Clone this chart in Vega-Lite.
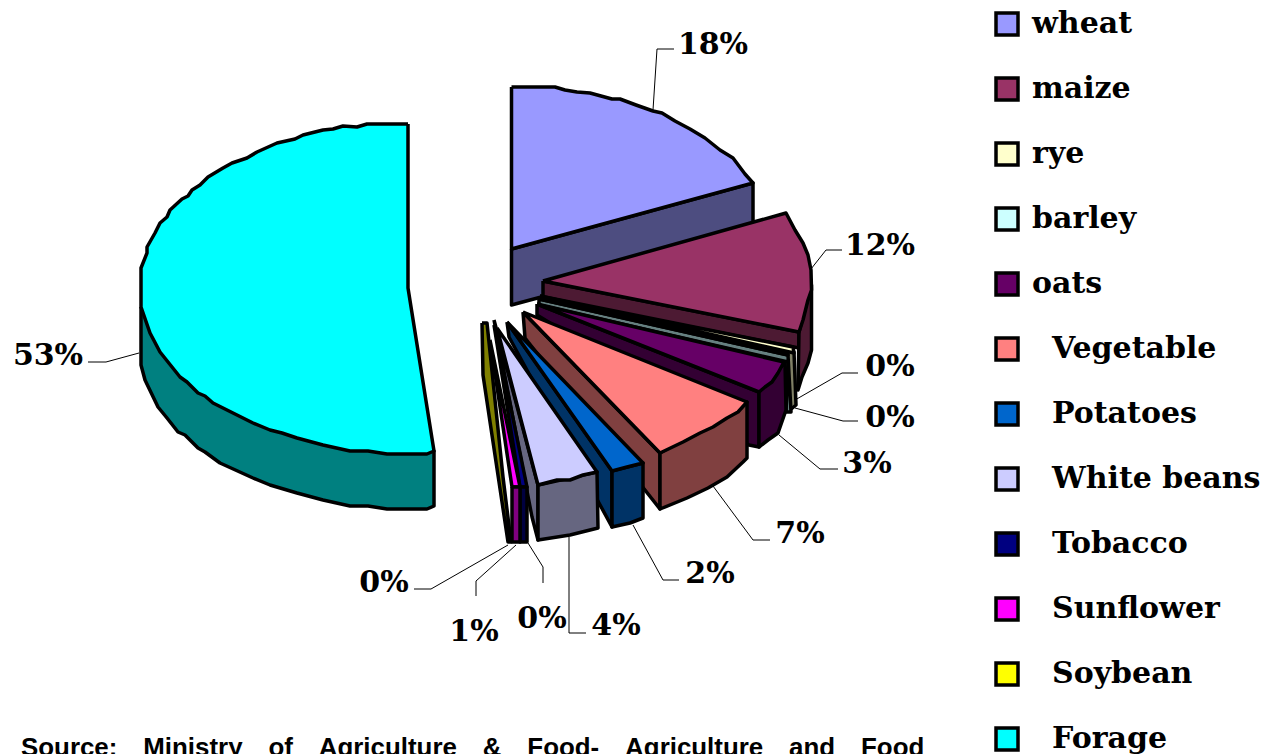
{"$schema":"https://vega.github.io/schema/vega-lite/v6.json","width":1261,"height":754,"autosize":"none","padding":0,"background":"white","view":{"stroke":null},
"datasets":{
"faces":[
{"surface":"wheat side","poly":"wheat side","n":1,"x":511.5,"y":249},{"surface":"wheat side","poly":"wheat side","n":2,"x":753,"y":183},{"surface":"wheat side","poly":"wheat side","n":3,"x":753,"y":240},{"surface":"wheat side","poly":"wheat side","n":4,"x":511.5,"y":305},{"surface":"wheat side","poly":"wheat side","n":5,"x":511.5,"y":249},
{"surface":"wheat","poly":"wheat top","n":1,"x":511.5,"y":87},{"surface":"wheat","poly":"wheat top","n":2,"x":555,"y":87},{"surface":"wheat","poly":"wheat top","n":3,"x":565,"y":90},{"surface":"wheat","poly":"wheat top","n":4,"x":577,"y":92},{"surface":"wheat","poly":"wheat top","n":5,"x":590,"y":93},{"surface":"wheat","poly":"wheat top","n":6,"x":612,"y":99},{"surface":"wheat","poly":"wheat top","n":7,"x":620,"y":99},{"surface":"wheat","poly":"wheat top","n":8,"x":636,"y":105},{"surface":"wheat","poly":"wheat top","n":9,"x":653,"y":111},{"surface":"wheat","poly":"wheat top","n":10,"x":662,"y":113},{"surface":"wheat","poly":"wheat top","n":11,"x":675,"y":121},{"surface":"wheat","poly":"wheat top","n":12,"x":690,"y":129},{"surface":"wheat","poly":"wheat top","n":13,"x":705,"y":138},{"surface":"wheat","poly":"wheat top","n":14,"x":720,"y":150},{"surface":"wheat","poly":"wheat top","n":15,"x":733,"y":158},{"surface":"wheat","poly":"wheat top","n":16,"x":745,"y":174},{"surface":"wheat","poly":"wheat top","n":17,"x":753,"y":183},{"surface":"wheat","poly":"wheat top","n":18,"x":511.5,"y":249},{"surface":"wheat","poly":"wheat top","n":19,"x":511.5,"y":87},
{"surface":"maize side","poly":"maize front","n":1,"x":543,"y":281},{"surface":"maize side","poly":"maize front","n":2,"x":799,"y":332},{"surface":"maize side","poly":"maize front","n":3,"x":799,"y":348},{"surface":"maize side","poly":"maize front","n":4,"x":543,"y":298},{"surface":"maize side","poly":"maize front","n":5,"x":543,"y":281},
{"surface":"maize side","poly":"maize rim","n":1,"x":799,"y":332},{"surface":"maize side","poly":"maize rim","n":2,"x":811.5,"y":285},{"surface":"maize side","poly":"maize rim","n":3,"x":811.5,"y":350},{"surface":"maize side","poly":"maize rim","n":4,"x":808,"y":363},{"surface":"maize side","poly":"maize rim","n":5,"x":802,"y":377},{"surface":"maize side","poly":"maize rim","n":6,"x":798,"y":390},{"surface":"maize side","poly":"maize rim","n":7,"x":799,"y":332},
{"surface":"maize","poly":"maize top","n":1,"x":543,"y":281},{"surface":"maize","poly":"maize top","n":2,"x":786,"y":213},{"surface":"maize","poly":"maize top","n":3,"x":795,"y":230},{"surface":"maize","poly":"maize top","n":4,"x":803,"y":243},{"surface":"maize","poly":"maize top","n":5,"x":808,"y":255},{"surface":"maize","poly":"maize top","n":6,"x":811,"y":270},{"surface":"maize","poly":"maize top","n":7,"x":811.5,"y":290},{"surface":"maize","poly":"maize top","n":8,"x":808,"y":300},{"surface":"maize","poly":"maize top","n":9,"x":803,"y":320},{"surface":"maize","poly":"maize top","n":10,"x":799,"y":332},{"surface":"maize","poly":"maize top","n":11,"x":543,"y":281},
{"surface":"rye side","poly":"rye side","n":1,"x":540,"y":296},{"surface":"rye side","poly":"rye side","n":2,"x":794,"y":352},{"surface":"rye side","poly":"rye side","n":3,"x":796,"y":405},{"surface":"rye side","poly":"rye side","n":4,"x":790,"y":410},{"surface":"rye side","poly":"rye side","n":5,"x":540,"y":308},{"surface":"rye side","poly":"rye side","n":6,"x":540,"y":296},
{"surface":"rye","poly":"rye top","n":1,"x":540,"y":296},{"surface":"rye","poly":"rye top","n":2,"x":793,"y":347},{"surface":"rye","poly":"rye top","n":3,"x":794,"y":353},{"surface":"rye","poly":"rye top","n":4,"x":540,"y":296},
{"surface":"barley side","poly":"barley side","n":1,"x":539,"y":299},{"surface":"barley side","poly":"barley side","n":2,"x":788,"y":355},{"surface":"barley side","poly":"barley side","n":3,"x":791,"y":412},{"surface":"barley side","poly":"barley side","n":4,"x":786,"y":412},{"surface":"barley side","poly":"barley side","n":5,"x":788,"y":362},{"surface":"barley side","poly":"barley side","n":6,"x":539,"y":305},{"surface":"barley side","poly":"barley side","n":7,"x":539,"y":299},
{"surface":"barley","poly":"barley top","n":1,"x":539,"y":299},{"surface":"barley","poly":"barley top","n":2,"x":788,"y":354},{"surface":"barley","poly":"barley top","n":3,"x":788,"y":355},{"surface":"barley","poly":"barley top","n":4,"x":539,"y":299},
{"surface":"oats side","poly":"oats front","n":1,"x":537,"y":304},{"surface":"oats side","poly":"oats front","n":2,"x":759,"y":392},{"surface":"oats side","poly":"oats front","n":3,"x":759,"y":447},{"surface":"oats side","poly":"oats front","n":4,"x":749,"y":445},{"surface":"oats side","poly":"oats front","n":5,"x":537,"y":315},{"surface":"oats side","poly":"oats front","n":6,"x":537,"y":304},
{"surface":"oats side","poly":"oats rim","n":1,"x":759,"y":392},{"surface":"oats side","poly":"oats rim","n":2,"x":785,"y":362},{"surface":"oats side","poly":"oats rim","n":3,"x":786,"y":410},{"surface":"oats side","poly":"oats rim","n":4,"x":778,"y":433},{"surface":"oats side","poly":"oats rim","n":5,"x":768,"y":440},{"surface":"oats side","poly":"oats rim","n":6,"x":759,"y":447},{"surface":"oats side","poly":"oats rim","n":7,"x":759,"y":392},
{"surface":"oats","poly":"oats top","n":1,"x":537,"y":304},{"surface":"oats","poly":"oats top","n":2,"x":784,"y":362},{"surface":"oats","poly":"oats top","n":3,"x":778,"y":373},{"surface":"oats","poly":"oats top","n":4,"x":772,"y":382},{"surface":"oats","poly":"oats top","n":5,"x":765,"y":387},{"surface":"oats","poly":"oats top","n":6,"x":759,"y":392},{"surface":"oats","poly":"oats top","n":7,"x":537,"y":304},
{"surface":"Vegetable side","poly":"Vegetable front","n":1,"x":523,"y":312},{"surface":"Vegetable side","poly":"Vegetable front","n":2,"x":660,"y":453},{"surface":"Vegetable side","poly":"Vegetable front","n":3,"x":660,"y":509},{"surface":"Vegetable side","poly":"Vegetable front","n":4,"x":525,"y":338},{"surface":"Vegetable side","poly":"Vegetable front","n":5,"x":523,"y":312},
{"surface":"Vegetable side","poly":"Vegetable rim","n":1,"x":660,"y":453},{"surface":"Vegetable side","poly":"Vegetable rim","n":2,"x":747,"y":402},{"surface":"Vegetable side","poly":"Vegetable rim","n":3,"x":747,"y":458},{"surface":"Vegetable side","poly":"Vegetable rim","n":4,"x":743,"y":462},{"surface":"Vegetable side","poly":"Vegetable rim","n":5,"x":727,"y":477},{"surface":"Vegetable side","poly":"Vegetable rim","n":6,"x":708,"y":488},{"surface":"Vegetable side","poly":"Vegetable rim","n":7,"x":687,"y":498},{"surface":"Vegetable side","poly":"Vegetable rim","n":8,"x":660,"y":509},{"surface":"Vegetable side","poly":"Vegetable rim","n":9,"x":660,"y":453},
{"surface":"Vegetable","poly":"Vegetable top","n":1,"x":523,"y":312},{"surface":"Vegetable","poly":"Vegetable top","n":2,"x":747,"y":402},{"surface":"Vegetable","poly":"Vegetable top","n":3,"x":738,"y":412},{"surface":"Vegetable","poly":"Vegetable top","n":4,"x":727,"y":418},{"surface":"Vegetable","poly":"Vegetable top","n":5,"x":713,"y":427},{"surface":"Vegetable","poly":"Vegetable top","n":6,"x":700,"y":433},{"surface":"Vegetable","poly":"Vegetable top","n":7,"x":683,"y":442},{"surface":"Vegetable","poly":"Vegetable top","n":8,"x":660,"y":453},{"surface":"Vegetable","poly":"Vegetable top","n":9,"x":523,"y":312},
{"surface":"Potatoes side","poly":"Potatoes front","n":1,"x":507,"y":322},{"surface":"Potatoes side","poly":"Potatoes front","n":2,"x":612,"y":471},{"surface":"Potatoes side","poly":"Potatoes front","n":3,"x":612,"y":527},{"surface":"Potatoes side","poly":"Potatoes front","n":4,"x":509,"y":337},{"surface":"Potatoes side","poly":"Potatoes front","n":5,"x":507,"y":322},
{"surface":"Potatoes side","poly":"Potatoes rim","n":1,"x":612,"y":471},{"surface":"Potatoes side","poly":"Potatoes rim","n":2,"x":643,"y":463},{"surface":"Potatoes side","poly":"Potatoes rim","n":3,"x":643,"y":518},{"surface":"Potatoes side","poly":"Potatoes rim","n":4,"x":630,"y":523},{"surface":"Potatoes side","poly":"Potatoes rim","n":5,"x":612,"y":527},{"surface":"Potatoes side","poly":"Potatoes rim","n":6,"x":612,"y":471},
{"surface":"Potatoes","poly":"Potatoes top","n":1,"x":507,"y":322},{"surface":"Potatoes","poly":"Potatoes top","n":2,"x":643,"y":463},{"surface":"Potatoes","poly":"Potatoes top","n":3,"x":627,"y":467},{"surface":"Potatoes","poly":"Potatoes top","n":4,"x":612,"y":471},{"surface":"Potatoes","poly":"Potatoes top","n":5,"x":507,"y":322},
{"surface":"White beans side","poly":"White beans front","n":1,"x":494,"y":320},{"surface":"White beans side","poly":"White beans front","n":2,"x":538,"y":485},{"surface":"White beans side","poly":"White beans front","n":3,"x":538,"y":540},{"surface":"White beans side","poly":"White beans front","n":4,"x":532,"y":517},{"surface":"White beans side","poly":"White beans front","n":5,"x":494,"y":320},
{"surface":"White beans side","poly":"White beans rim","n":1,"x":538,"y":485},{"surface":"White beans side","poly":"White beans rim","n":2,"x":597,"y":472},{"surface":"White beans side","poly":"White beans rim","n":3,"x":598,"y":528},{"surface":"White beans side","poly":"White beans rim","n":4,"x":570,"y":535},{"surface":"White beans side","poly":"White beans rim","n":5,"x":538,"y":540},{"surface":"White beans side","poly":"White beans rim","n":6,"x":538,"y":485},
{"surface":"White beans","poly":"White beans top","n":1,"x":497,"y":328},{"surface":"White beans","poly":"White beans top","n":2,"x":597,"y":472},{"surface":"White beans","poly":"White beans top","n":3,"x":583,"y":475},{"surface":"White beans","poly":"White beans top","n":4,"x":570,"y":480},{"surface":"White beans","poly":"White beans top","n":5,"x":557,"y":480},{"surface":"White beans","poly":"White beans top","n":6,"x":538,"y":485},{"surface":"White beans","poly":"White beans top","n":7,"x":497,"y":328},
{"surface":"Tobacco","poly":"Tobacco top","n":1,"x":494,"y":325},{"surface":"Tobacco","poly":"Tobacco top","n":2,"x":527,"y":487},{"surface":"Tobacco","poly":"Tobacco top","n":3,"x":520,"y":487},{"surface":"Tobacco","poly":"Tobacco top","n":4,"x":494,"y":325},
{"surface":"Tobacco side","poly":"Tobacco front","n":1,"x":520,"y":487},{"surface":"Tobacco side","poly":"Tobacco front","n":2,"x":527,"y":487},{"surface":"Tobacco side","poly":"Tobacco front","n":3,"x":527,"y":542},{"surface":"Tobacco side","poly":"Tobacco front","n":4,"x":520,"y":542},{"surface":"Tobacco side","poly":"Tobacco front","n":5,"x":520,"y":487},
{"surface":"Sunflower","poly":"Sunflower top","n":1,"x":490,"y":340},{"surface":"Sunflower","poly":"Sunflower top","n":2,"x":520,"y":487},{"surface":"Sunflower","poly":"Sunflower top","n":3,"x":512,"y":487},{"surface":"Sunflower","poly":"Sunflower top","n":4,"x":490,"y":340},
{"surface":"Sunflower side","poly":"Sunflower front","n":1,"x":512,"y":487},{"surface":"Sunflower side","poly":"Sunflower front","n":2,"x":520,"y":487},{"surface":"Sunflower side","poly":"Sunflower front","n":3,"x":520,"y":542},{"surface":"Sunflower side","poly":"Sunflower front","n":4,"x":512,"y":542},{"surface":"Sunflower side","poly":"Sunflower front","n":5,"x":512,"y":487},
{"surface":"Soybean side","poly":"Soybean side","n":1,"x":482,"y":323},{"surface":"Soybean side","poly":"Soybean side","n":2,"x":487,"y":323},{"surface":"Soybean side","poly":"Soybean side","n":3,"x":503,"y":477},{"surface":"Soybean side","poly":"Soybean side","n":4,"x":511,"y":542},{"surface":"Soybean side","poly":"Soybean side","n":5,"x":508,"y":542},{"surface":"Soybean side","poly":"Soybean side","n":6,"x":483,"y":375},{"surface":"Soybean side","poly":"Soybean side","n":7,"x":482,"y":323},
{"surface":"Forage side","poly":"Forage side","n":1,"x":141,"y":307},{"surface":"Forage side","poly":"Forage side","n":2,"x":141,"y":365},{"surface":"Forage side","poly":"Forage side","n":3,"x":145,"y":380},{"surface":"Forage side","poly":"Forage side","n":4,"x":158,"y":407},{"surface":"Forage side","poly":"Forage side","n":5,"x":167,"y":418},{"surface":"Forage side","poly":"Forage side","n":6,"x":178,"y":432},{"surface":"Forage side","poly":"Forage side","n":7,"x":185,"y":435},{"surface":"Forage side","poly":"Forage side","n":8,"x":198,"y":448},{"surface":"Forage side","poly":"Forage side","n":9,"x":205,"y":452},{"surface":"Forage side","poly":"Forage side","n":10,"x":220,"y":463},{"surface":"Forage side","poly":"Forage side","n":11,"x":253,"y":478},{"surface":"Forage side","poly":"Forage side","n":12,"x":270,"y":485},{"surface":"Forage side","poly":"Forage side","n":13,"x":297,"y":493},{"surface":"Forage side","poly":"Forage side","n":14,"x":323,"y":500},{"surface":"Forage side","poly":"Forage side","n":15,"x":350,"y":506},{"surface":"Forage side","poly":"Forage side","n":16,"x":368,"y":506},{"surface":"Forage side","poly":"Forage side","n":17,"x":387,"y":509},{"surface":"Forage side","poly":"Forage side","n":18,"x":427,"y":509},{"surface":"Forage side","poly":"Forage side","n":19,"x":434,"y":506},{"surface":"Forage side","poly":"Forage side","n":20,"x":434,"y":451},{"surface":"Forage side","poly":"Forage side","n":21,"x":141,"y":307},
{"surface":"Forage","poly":"Forage top","n":1,"x":408,"y":124},{"surface":"Forage","poly":"Forage top","n":2,"x":367,"y":124},{"surface":"Forage","poly":"Forage top","n":3,"x":357,"y":127},{"surface":"Forage","poly":"Forage top","n":4,"x":343,"y":126},{"surface":"Forage","poly":"Forage top","n":5,"x":333,"y":129},{"surface":"Forage","poly":"Forage top","n":6,"x":323,"y":130},{"surface":"Forage","poly":"Forage top","n":7,"x":303,"y":135},{"surface":"Forage","poly":"Forage top","n":8,"x":295,"y":139},{"surface":"Forage","poly":"Forage top","n":9,"x":277,"y":143},{"surface":"Forage","poly":"Forage top","n":10,"x":257,"y":152},{"surface":"Forage","poly":"Forage top","n":11,"x":247,"y":158},{"surface":"Forage","poly":"Forage top","n":12,"x":232,"y":163},{"surface":"Forage","poly":"Forage top","n":13,"x":223,"y":168},{"surface":"Forage","poly":"Forage top","n":14,"x":208,"y":177},{"surface":"Forage","poly":"Forage top","n":15,"x":200,"y":185},{"surface":"Forage","poly":"Forage top","n":16,"x":192,"y":190},{"surface":"Forage","poly":"Forage top","n":17,"x":188,"y":196},{"surface":"Forage","poly":"Forage top","n":18,"x":182,"y":199},{"surface":"Forage","poly":"Forage top","n":19,"x":170,"y":210},{"surface":"Forage","poly":"Forage top","n":20,"x":167,"y":217},{"surface":"Forage","poly":"Forage top","n":21,"x":160,"y":223},{"surface":"Forage","poly":"Forage top","n":22,"x":155,"y":233},{"surface":"Forage","poly":"Forage top","n":23,"x":147,"y":247},{"surface":"Forage","poly":"Forage top","n":24,"x":147,"y":253},{"surface":"Forage","poly":"Forage top","n":25,"x":141,"y":268},{"surface":"Forage","poly":"Forage top","n":26,"x":141,"y":307},{"surface":"Forage","poly":"Forage top","n":27,"x":150,"y":333},{"surface":"Forage","poly":"Forage top","n":28,"x":160,"y":352},{"surface":"Forage","poly":"Forage top","n":29,"x":168,"y":362},{"surface":"Forage","poly":"Forage top","n":30,"x":180,"y":377},{"surface":"Forage","poly":"Forage top","n":31,"x":187,"y":382},{"surface":"Forage","poly":"Forage top","n":32,"x":198,"y":393},{"surface":"Forage","poly":"Forage top","n":33,"x":205,"y":396},{"surface":"Forage","poly":"Forage top","n":34,"x":213,"y":403},{"surface":"Forage","poly":"Forage top","n":35,"x":233,"y":413},{"surface":"Forage","poly":"Forage top","n":36,"x":253,"y":423},{"surface":"Forage","poly":"Forage top","n":37,"x":270,"y":430},{"surface":"Forage","poly":"Forage top","n":38,"x":282,"y":433},{"surface":"Forage","poly":"Forage top","n":39,"x":297,"y":438},{"surface":"Forage","poly":"Forage top","n":40,"x":323,"y":445},{"surface":"Forage","poly":"Forage top","n":41,"x":350,"y":451},{"surface":"Forage","poly":"Forage top","n":42,"x":368,"y":451},{"surface":"Forage","poly":"Forage top","n":43,"x":387,"y":454},{"surface":"Forage","poly":"Forage top","n":44,"x":427,"y":454},{"surface":"Forage","poly":"Forage top","n":45,"x":434,"y":451},{"surface":"Forage","poly":"Forage top","n":46,"x":408,"y":288},{"surface":"Forage","poly":"Forage top","n":47,"x":408,"y":124}
],
"leaders":[
{"crop":"wheat","n":1,"x":653,"y":110},{"crop":"wheat","n":2,"x":657,"y":49},{"crop":"wheat","n":3,"x":674,"y":49},
{"crop":"maize","n":1,"x":811,"y":269},{"crop":"maize","n":2,"x":826,"y":250},{"crop":"maize","n":3,"x":842,"y":250},
{"crop":"rye","n":1,"x":795,"y":400},{"crop":"rye","n":2,"x":842,"y":373},{"crop":"rye","n":3,"x":858,"y":373},
{"crop":"barley","n":1,"x":795,"y":408},{"crop":"barley","n":2,"x":843,"y":421},{"crop":"barley","n":3,"x":858,"y":421},
{"crop":"oats","n":1,"x":779,"y":435},{"crop":"oats","n":2,"x":820,"y":469},{"crop":"oats","n":3,"x":838,"y":469},
{"crop":"Vegetable","n":1,"x":713,"y":486},{"crop":"Vegetable","n":2,"x":753,"y":540},{"crop":"Vegetable","n":3,"x":770,"y":540},
{"crop":"Potatoes","n":1,"x":633,"y":525},{"crop":"Potatoes","n":2,"x":663,"y":580},{"crop":"Potatoes","n":3,"x":679,"y":580},
{"crop":"White beans","n":1,"x":569,"y":537},{"crop":"White beans","n":2,"x":569,"y":633},{"crop":"White beans","n":3,"x":586,"y":633},
{"crop":"Tobacco","n":1,"x":528,"y":543},{"crop":"Tobacco","n":2,"x":543,"y":567},{"crop":"Tobacco","n":3,"x":543,"y":583},
{"crop":"Sunflower","n":1,"x":516,"y":545},{"crop":"Sunflower","n":2,"x":476,"y":581},{"crop":"Sunflower","n":3,"x":476,"y":596},
{"crop":"Soybean","n":1,"x":508,"y":545},{"crop":"Soybean","n":2,"x":431,"y":589},{"crop":"Soybean","n":3,"x":414,"y":589},
{"crop":"Forage","n":1,"x":139,"y":353},{"crop":"Forage","n":2,"x":106,"y":362},{"crop":"Forage","n":3,"x":88,"y":362}
],
"labels":[
{"crop":"wheat","label":"18%","x":713,"y":45},{"crop":"maize","label":"12%","x":880,"y":246},{"crop":"rye","label":"0%","x":890,"y":367},{"crop":"barley","label":"0%","x":890,"y":418},{"crop":"oats","label":"3%","x":867,"y":464},{"crop":"Vegetable","label":"7%","x":800,"y":534},{"crop":"Potatoes","label":"2%","x":710,"y":574},{"crop":"White beans","label":"4%","x":616,"y":626},{"crop":"Tobacco","label":"0%","x":542,"y":619},{"crop":"Sunflower","label":"1%","x":474,"y":632},{"crop":"Soybean","label":"0%","x":384,"y":583},{"crop":"Forage","label":"53%","x":48,"y":356}
],
"notes":[{"text":"Source:\u2003Ministry\u2003of\u2003Agriculture\u2003&\u2003Food-\u2003Agriculture\u2003and\u2003Food","x":21,"y":756}]
},
"layer":[
{"data":{"name":"leaders"},"mark":{"type":"line","stroke":"#000000","strokeWidth":1},
 "encoding":{"x":{"field":"x","type":"quantitative","scale":{"domain":[0,1261],"nice":false,"zero":false},"axis":null},"y":{"field":"y","type":"quantitative","scale":{"domain":[0,754],"nice":false,"zero":false,"reverse":true},"axis":null},"detail":{"field":"crop"},"order":{"field":"n"}}},
{"data":{"name":"faces"},"mark":{"type":"line","stroke":"#000000","strokeWidth":3.5,"strokeJoin":"round"},
 "encoding":{"x":{"field":"x","type":"quantitative"},"y":{"field":"y","type":"quantitative"},"detail":{"field":"poly"},"order":{"field":"n"},
  "fill":{"field":"surface","type":"nominal","sort":null,
   "scale":{"domain":["wheat","maize","rye","barley","oats","Vegetable","Potatoes","White beans","Tobacco","Sunflower","Soybean","Forage","wheat side","maize side","rye side","barley side","oats side","Vegetable side","Potatoes side","White beans side","Tobacco side","Sunflower side","Soybean side","Forage side"],
    "range":["#9999ff","#993366","#ffffcc","#ccffff","#660066","#ff8080","#0066cc","#ccccff","#000080","#ff00ff","#ffff00","#00ffff","#4d4d80","#4d1a33","#808066","#668080","#330033","#804040","#003366","#666680","#000040","#800080","#808000","#008080"]},
   "legend":{"values":["wheat","maize","rye","barley","oats","Vegetable","Potatoes","White beans","Tobacco","Sunflower","Soybean","Forage"],"title":null,"orient":"none","legendX":992,"legendY":9,"symbolType":"square","symbolSize":484,"symbolStrokeColor":"#000000","symbolStrokeWidth":3.5,"symbolOpacity":1,"labelFont":"DejaVu Serif","labelFontWeight":"bold","labelFontSize":30,"labelColor":"#000000","labelOffset":10,"rowPadding":29,"labelLimit":300,
    "encode":{"labels":{"update":{"dx":{"signal":"indexof(['wheat','maize','rye','barley','oats'],datum.label)>=0 ? 0 : 20"}}}}}}}},
{"data":{"name":"labels"},"mark":{"type":"text","font":"DejaVu Serif","fontWeight":"bold","fontSize":30,"color":"#000000","align":"center","baseline":"middle"},
 "encoding":{"x":{"field":"x","type":"quantitative"},"y":{"field":"y","type":"quantitative"},"text":{"field":"label"}}},
{"data":{"name":"notes"},"mark":{"type":"text","font":"Liberation Sans","fontWeight":"bold","fontSize":25.9,"color":"#000000","align":"left","baseline":"alphabetic"},
 "encoding":{"x":{"field":"x","type":"quantitative"},"y":{"field":"y","type":"quantitative"},"text":{"field":"text"}}}
]}
